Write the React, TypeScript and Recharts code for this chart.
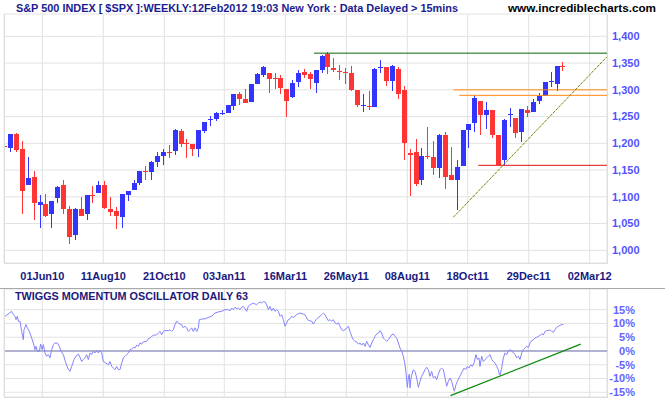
import React from 'react';
import {
  ComposedChart,
  Bar,
  Line,
  XAxis,
  YAxis,
  CartesianGrid,
  ReferenceLine
} from 'recharts';

// x axis is the week number, 0 = week of 12 Apr 2010
const dateTicks = [6.3, 16.68, 27.07, 37.28, 47.67, 58.05, 68.44, 78.72, 89.1, 99.49];
const dateLabels = ['01Jun10', '11Aug10', '21Oct10', '03Jan11', '16Mar11', '26May11', '08Aug11', '18Oct11', '29Dec11', '02Mar12'];
const priceTicks = [1000, 1050, 1100, 1150, 1200, 1250, 1300, 1350, 1400];
const pctTicks = [-15, -10, -5, 0, 5, 10, 15];

const opens = [
  1195, 1191, 1217, 1189, 1123, 1137, 1085, 1086, 1067, 1097,
  1122, 1077, 1029, 1077, 1067, 1103.5, 1108, 1122, 1077, 1073.5,
  1063, 1104, 1113.5, 1126.5, 1148.5, 1145.8, 1165.7, 1177, 1184, 1186,
  1223, 1200.5, 1199, 1190, 1223.7, 1244, 1245.5, 1256, 1257.3, 1270.4,
  1292, 1283, 1278, 1311.5, 1328, 1331.5, 1322, 1321.5, 1301.5, 1286.6,
  1315, 1334, 1329, 1312.8, 1337.7, 1367.6, 1340.8, 1335.5, 1334, 1332,
  1299.7, 1271, 1269, 1268, 1340, 1342.7, 1317, 1339.5, 1299.7, 1182.5,
  1183, 1131, 1177, 1174, 1153.7, 1214.7, 1140, 1131.3, 1157.5, 1224.6,
  1237.7, 1279, 1252, 1263.2, 1214.7, 1169.3, 1252.5, 1247.6, 1220.9, 1262.6,
  1258.2, 1278.7, 1289.3, 1314.5, 1310.4, 1344.2
];
const highs = [
  1213, 1218, 1219, 1204, 1174.5, 1148, 1103, 1105, 1092, 1120,
  1131.5, 1082, 1079, 1100, 1103, 1120, 1130, 1130, 1100, 1081,
  1105, 1111.5, 1131.5, 1148, 1157.5, 1167.6, 1184, 1189.4, 1196.6, 1227,
  1227, 1208, 1199, 1225, 1240, 1250.5, 1258.6, 1262, 1271, 1292,
  1295, 1301.5, 1311, 1331, 1344.5, 1331.5, 1331.5, 1328, 1301.5, 1317.8,
  1337, 1339, 1332.7, 1336.4, 1365, 1370.7, 1359, 1347, 1340, 1344.5,
  1299.7, 1292, 1298, 1341, 1355.8, 1342.7, 1346.4, 1342.7, 1307, 1189.6,
  1207.6, 1191, 1230.4, 1204, 1217.8, 1220.9, 1193.5, 1169.3, 1224, 1237,
  1291.2, 1279, 1276.9, 1263.2, 1214.7, 1245, 1265.7, 1247.6, 1265, 1269.4,
  1283.7, 1294.9, 1315, 1332.8, 1344.5, 1352.7
];
const lows = [
  1188, 1184, 1183, 1067, 1122, 1057, 1042, 1062, 1042, 1089,
  1068.5, 1012.5, 1020, 1065, 1057, 1089, 1108, 1077, 1065, 1040.5,
  1042, 1092, 1113.5, 1123, 1132, 1132, 1156, 1160, 1173, 1178,
  1193, 1173, 1177, 1175, 1220, 1233, 1242.4, 1252, 1257.3, 1263,
  1272, 1276, 1278, 1311.5, 1324.6, 1294, 1301.6, 1293, 1249, 1285.3,
  1306, 1322.7, 1301.5, 1294.7, 1332, 1330, 1332.7, 1319, 1311.5, 1298.5,
  1268.5, 1259, 1263, 1268, 1332, 1307.8, 1297, 1283.5, 1169.5, 1101.8,
  1120, 1121.2, 1171.2, 1140, 1135, 1115.2, 1131.3, 1075, 1157.5, 1192,
  1220.9, 1216, 1226.5, 1210.3, 1158.7, 1159, 1230.2, 1210.3, 1201.6, 1248.9,
  1258.2, 1273.8, 1289.3, 1304.8, 1298.6, 1334.7
];
const closes = [
  1193, 1217.5, 1188, 1111.5, 1135, 1089, 1090, 1065, 1092, 1118,
  1078, 1024, 1077, 1065, 1103, 1101.5, 1122, 1079, 1072, 1065,
  1105, 1110, 1126, 1148, 1146.5, 1165, 1176.3, 1183, 1183, 1225,
  1199.4, 1199.5, 1190, 1225, 1240, 1245.5, 1256, 1257.5, 1271, 1292,
  1283.5, 1276, 1311, 1329.6, 1342.7, 1320, 1321.5, 1303.4, 1279.7, 1312.8,
  1331.5, 1328.3, 1320, 1336.4, 1363, 1342, 1337, 1334, 1333, 1299.7,
  1271.6, 1272.5, 1267, 1339, 1342.7, 1317, 1344.5, 1292.8, 1200, 1178.4,
  1123.6, 1175.8, 1175.5, 1154.4, 1214.7, 1136.9, 1131.3, 1155.6, 1224, 1237,
  1284.3, 1252.5, 1263.2, 1214.7, 1158.7, 1242.7, 1254.5, 1219, 1265, 1256.3,
  1276.9, 1288, 1314.2, 1316.4, 1344, 1342.4
];

// [week, percent]
const oscReadings: [number, number][] = [
  [-0.05, 12.6], [1.08, 14.4], [1.37, 13.2], [1.65, 12.6], [1.82, 11.4], [2.05, 12.6], [2.22, 10.8], [2.5, 10.8],
  [2.79, 7.1], [3.07, 4.1], [3.18, 7.7], [3.52, 9.6], [3.75, 8.4], [4.09, 7.1], [4.49, 4.7], [4.77, 2.9],
  [5.06, 0.5], [5.23, 1.7], [5.45, -0.1], [5.79, -0.1], [6.02, 2.5], [6.25, 0.5], [6.48, 2.3], [6.76, -0.7],
  [7.04, -1.9], [7.33, -1.3], [7.61, -2.5], [7.89, 0.5], [8.18, 2.3], [8.46, 2.9], [8.86, 2.9], [9.2, 1.7],
  [9.48, -0.1], [9.88, -1.3], [10.22, -3.8], [10.62, -6.2], [11.01, -7.4], [11.3, -5.6], [11.7, -3.1], [12.04, -1.9],
  [12.43, -1.1], [12.72, -2.3], [13.0, -3.8], [13.29, -3.1], [13.57, -2.5], [13.85, -1.3], [14.14, -3.1], [14.42, -0.7],
  [14.7, -1.3], [14.99, -0.1], [15.27, -0.7], [15.56, 0.1], [15.84, -0.7], [16.12, 0.1], [16.41, -0.7], [16.69, -3.8],
  [17.14, -4.4], [17.54, -5.0], [17.83, -3.8], [18.11, -5.6], [18.39, -6.2], [18.68, -6.8], [18.96, -5.6], [19.24, -6.8],
  [19.53, -6.8], [19.81, -4.4], [20.09, -2.5], [20.38, -1.9], [20.66, -1.3], [20.95, -0.7], [21.23, 0.5], [21.51, 0.7],
  [21.8, 1.3], [22.08, 1.1], [22.36, 2.1], [22.65, 1.7], [22.93, 2.9], [23.22, 2.5], [23.5, 3.3], [24.07, 3.5],
  [24.35, 4.5], [24.63, 4.7], [24.92, 5.3], [25.2, 5.7], [25.77, 5.9], [26.05, 6.5], [26.34, 7.1], [26.62, 5.9],
  [26.9, 7.1], [27.19, 7.4], [27.76, 7.4], [28.04, 7.7], [28.32, 7.1], [28.61, 7.7], [28.89, 9.6], [29.17, 10.8],
  [29.46, 10.2], [29.74, 9.8], [30.03, 9.6], [30.31, 8.4], [30.59, 9.0], [30.88, 8.4], [31.16, 7.1], [31.44, 7.7],
  [31.73, 8.4], [32.01, 7.1], [32.3, 8.4], [32.58, 7.1], [32.86, 8.4], [33.03, 11.4], [33.43, 11.6], [34.0, 11.7],
  [34.57, 12.2], [35.13, 12.6], [35.7, 13.8], [36.27, 14.2], [36.84, 14.4], [37.4, 15.0], [37.97, 15.0], [38.25, 14.6],
  [38.54, 15.6], [38.82, 15.0], [39.11, 15.9], [39.39, 15.4], [39.67, 15.6], [39.96, 15.0], [40.24, 15.9], [40.52, 16.2],
  [40.81, 15.4], [41.09, 14.4], [41.38, 16.2], [41.66, 16.8], [41.94, 17.1], [42.23, 17.4], [42.51, 17.1], [42.79, 16.8],
  [43.08, 17.4], [43.36, 17.8], [43.65, 17.4], [43.93, 18.0], [44.21, 17.8], [44.5, 16.8], [44.78, 15.0], [45.06, 16.2],
  [45.35, 14.6], [45.63, 15.6], [45.91, 14.4], [46.2, 15.0], [46.48, 14.4], [46.77, 12.6], [47.05, 13.2], [47.33, 11.4],
  [47.62, 9.0], [47.9, 10.2], [48.18, 11.4], [48.47, 11.7], [48.75, 12.6], [49.04, 12.2], [49.6, 13.2], [50.17, 13.8],
  [50.74, 13.4], [51.02, 13.2], [51.31, 12.0], [51.59, 11.1], [52.16, 10.8], [52.44, 9.8], [52.72, 10.8], [53.01, 11.7],
  [53.29, 12.2], [53.57, 12.6], [53.86, 13.2], [54.14, 13.8], [54.43, 13.2], [54.71, 12.0], [54.99, 11.0], [55.28, 11.4],
  [55.56, 10.8], [55.84, 11.4], [56.13, 10.2], [56.41, 9.8], [56.7, 10.2], [56.98, 9.0], [57.26, 7.7], [57.55, 7.4],
  [57.83, 7.7], [58.11, 8.4], [58.4, 9.0], [58.68, 7.1], [58.97, 5.3], [59.25, 4.1], [59.53, 3.5], [59.82, 3.3],
  [60.1, 2.5], [60.38, 2.9], [60.67, 2.1], [60.95, 2.9], [61.24, 1.7], [61.52, 3.5], [61.8, 2.3], [62.09, 1.3],
  [62.37, 2.9], [62.65, 4.1], [62.94, 5.3], [63.22, 6.2], [63.51, 6.5], [63.79, 7.4], [64.07, 6.5], [64.36, 4.7],
  [64.64, 4.1], [64.92, 3.5], [65.21, 4.1], [65.49, 5.0], [65.78, 5.9], [66.06, 6.2], [66.34, 5.3], [66.63, 4.7],
  [66.91, 2.9], [67.19, 1.1], [67.48, -0.1], [67.76, -1.9], [68.05, -5.0], [68.22, -8.0], [68.44, -13.2], [68.61, -9.8],
  [68.78, -8.4], [68.9, -13.4], [69.07, -9.8], [69.29, -8.0], [69.46, -6.8], [69.75, -7.4], [70.03, -9.8], [70.32, -13.2],
  [70.6, -11.0], [70.88, -9.2], [71.17, -8.0], [71.45, -6.8], [71.73, -5.9], [72.02, -6.8], [72.3, -9.2], [72.59, -7.4],
  [72.87, -9.8], [73.15, -9.2], [73.44, -10.4], [73.72, -8.4], [74.0, -6.8], [74.29, -6.2], [74.57, -6.8], [74.86, -9.8],
  [75.14, -12.8], [75.42, -11.0], [75.71, -9.8], [75.99, -11.0], [76.27, -13.4], [76.44, -14.6], [76.73, -12.2], [76.95, -11.0],
  [77.24, -9.8], [77.52, -8.6], [77.81, -7.4], [78.09, -6.2], [78.37, -6.8], [78.66, -5.6], [78.94, -6.2], [79.23, -5.0],
  [79.51, -5.6], [79.79, -4.4], [80.13, -1.3], [80.36, -3.1], [80.64, -2.5], [80.81, -5.6], [81.1, -1.9], [81.38, -3.8],
  [81.66, -3.1], [81.95, -2.5], [82.23, -1.9], [82.52, -1.3], [82.8, -3.1], [83.08, -3.8], [83.37, -4.4], [83.65, -5.6],
  [83.93, -6.8], [84.1, -8.4], [84.22, -8.8], [84.5, -6.2], [84.79, -2.5], [85.07, -0.7], [85.35, -1.3], [85.64, -0.1],
  [85.92, 0.5], [86.2, 0.1], [86.49, -0.7], [86.77, -1.3], [87.06, -2.5], [87.34, -1.9], [87.62, -3.1], [87.91, -0.7],
  [88.19, 0.5], [88.47, 1.1], [88.76, 1.7], [89.04, 1.3], [89.33, 2.9], [89.61, 3.8], [89.89, 4.1], [90.18, 4.7],
  [90.46, 5.0], [90.74, 5.3], [91.03, 5.7], [91.31, 6.2], [91.6, 5.9], [91.88, 7.1], [92.16, 7.4], [92.45, 7.5],
  [92.73, 7.7], [93.01, 7.1], [93.3, 6.8], [93.58, 7.7], [93.87, 8.6], [94.15, 9.0], [94.43, 9.3], [94.72, 9.6],
  [95.0, 9.6]
];

// drawn lines: [week, value] end points
const resistanceLine = { from: 52.55, to: 102.43, price: 1368.5 };
const orangeLines = [
  { from: 76.27, to: 102.43, price: 1300 },
  { from: 77.29, to: 102.43, price: 1289.7 }
];
const supportLine = { from: 80.52, to: 102.43, price: 1158.9 };
const priceTrend: [number, number][] = [[76.27, 1061.7], [102.43, 1361.9]];
const oscTrend: [number, number][] = [[75.79, -16.2], [97.96, 2.5]];

const X_DOMAIN: [number, number] = [-0.22, 102.43];
const UP = '#3434ff';
const DOWN = '#ff3434';
const FONT = '"Liberation Sans", Arial, sans-serif';

const candles = opens.map((o, i) => ({
  i,
  open: o,
  high: highs[i],
  low: lows[i],
  close: closes[i],
  range: [lows[i], highs[i]]
}));

const oscData = oscReadings.map(([w, v]) => ({ w, v }));

const Candle = (props: any) => {
  const { x, y, width, height, payload } = props;
  if (x == null || y == null || !payload) return null;
  const cx = Math.floor(x + width / 2);
  const top = Math.min(y, y + height);
  const span = Math.abs(height);
  const { open, close, high, low } = payload;
  const toPx = (v: number) => top + ((high - v) / (high - low || 1)) * span;
  const color = close >= open ? UP : DOWN;
  const bodyTop = Math.round(toPx(Math.max(open, close)));
  const bodyH = Math.max(1, Math.round(toPx(Math.min(open, close))) - bodyTop);
  const wickTop = Math.round(top);
  const wickH = Math.max(1, Math.round(top + span) - wickTop);
  return (
    <g shapeRendering="crispEdges">
      <rect x={cx} y={wickTop} width={1} height={wickH} fill={color} />
      <rect x={cx - 2} y={bodyTop} width={5} height={bodyH} fill={color} />
    </g>
  );
};

const DateTick = (props: any) => {
  const { x, y, index } = props;
  return (
    <text x={x} y={y + 17} textAnchor="middle" fontFamily={FONT} fontWeight="bold" fontSize={11} fill="#1a1a80">
      {dateLabels[index]}
    </text>
  );
};

const PriceTick = (props: any) => {
  const { x, y, payload } = props;
  return (
    <text x={x} y={y} dy="0.35em" textAnchor="start" fontFamily={FONT} fontWeight="bold" fontSize={11} fill="#5252ff">
      {Number(payload.value).toLocaleString('en-US')}
    </text>
  );
};

const PctTick = (props: any) => {
  const { x, y, payload } = props;
  return (
    <text x={x + 23} y={y} dy="0.35em" textAnchor="end" fontFamily={FONT} fontWeight="bold" fontSize={11} fill="#6464ff">
      {payload.value}%
    </text>
  );
};

export default function App() {
  return (
    <div style={{ position: 'absolute', left: 0, top: 0, width: 665, height: 405, background: '#fff', overflow: 'hidden' }}>
      {/* price panel */}
      <div style={{ position: 'absolute', left: 0, top: 0 }}>
        <ComposedChart width={665} height={290} data={candles} margin={{ top: 14, right: 0, bottom: 0, left: 4 }}>
          <CartesianGrid stroke="#e2e2e2" />
          <XAxis
            type="number"
            dataKey="i"
            domain={X_DOMAIN}
            ticks={dateTicks}
            interval={0}
            allowDataOverflow
            height={27}
            tickSize={0}
            tickMargin={0}
            tickLine={false}
            axisLine={false}
            tick={<DateTick />}
          />
          <YAxis
            orientation="right"
            width={58}
            domain={[976.3, 1441.7]}
            ticks={priceTicks}
            interval={0}
            allowDataOverflow
            tickSize={0}
            tickMargin={5}
            tickLine={false}
            axisLine={false}
            tick={<PriceTick />}
          />
          <Bar dataKey="range" barSize={5} shape={Candle} isAnimationActive={false} />
          <ReferenceLine
            segment={[{ x: resistanceLine.from, y: resistanceLine.price }, { x: resistanceLine.to, y: resistanceLine.price }]}
            stroke="#0b640b"
            ifOverflow="visible"
          />
          {orangeLines.map((l, k) => (
            <ReferenceLine
              key={k}
              segment={[{ x: l.from, y: l.price }, { x: l.to, y: l.price }]}
              stroke="#ff8a10"
              ifOverflow="visible"
            />
          ))}
          <ReferenceLine
            segment={[{ x: supportLine.from, y: supportLine.price }, { x: supportLine.to, y: supportLine.price }]}
            stroke="#e01010"
            ifOverflow="visible"
          />
          <ReferenceLine
            segment={priceTrend.map(([x, y]) => ({ x, y }))}
            stroke="#7d7d00"
            strokeDasharray="3 1"
            ifOverflow="visible"
          />
        </ComposedChart>
      </div>

      {/* oscillator panel */}
      <div style={{ position: 'absolute', left: 0, top: 280 }}>
        <ComposedChart width={665} height={125} data={oscData} margin={{ top: 9, right: 0, bottom: 8, left: 4 }}>
          <CartesianGrid stroke="#e2e2e2" />
          <XAxis type="number" dataKey="w" domain={X_DOMAIN} ticks={dateTicks} interval={0} allowDataOverflow hide />
          <YAxis
            orientation="right"
            width={58}
            domain={[-16.71, 22.52]}
            ticks={pctTicks}
            interval={0}
            allowDataOverflow
            tickSize={0}
            tickMargin={5}
            tickLine={false}
            axisLine={false}
            tick={<PctTick />}
          />
          <ReferenceLine y={0} stroke="#7272b6" />
          <Line type="linear" dataKey="v" stroke="#8383ff" strokeWidth={1} dot={false} isAnimationActive={false} />
          <ReferenceLine
            segment={oscTrend.map(([x, y]) => ({ x, y }))}
            stroke="#0d8a0d"
            strokeWidth={1.3}
            ifOverflow="visible"
          />
        </ComposedChart>
      </div>

      {/* panel frames */}
      <div style={{ position: 'absolute', left: 4, top: 14, width: 604, height: 250, border: '1px solid #dedede', borderTop: 'none', boxSizing: 'border-box', pointerEvents: 'none' }} />
      <div style={{ position: 'absolute', left: 4, top: 289, width: 604, height: 109, border: '1px solid #dedede', borderTop: 'none', boxSizing: 'border-box', pointerEvents: 'none' }} />
      <div style={{ position: 'absolute', left: 0, top: 288, width: 665, height: 1, background: '#a9a9a9' }} />

      {/* titles */}
      <svg width={665} height={405} style={{ position: 'absolute', left: 0, top: 0, pointerEvents: 'none' }}>
        <text x={16} y={11.5} fontFamily={FONT} fontWeight="bold" fontSize={10.5} fill="#1b1b8f" textLength={442} lengthAdjust="spacingAndGlyphs">
          S&amp;P 500 INDEX [ $SPX ]:WEEKLY:12Feb2012 19:03 New York  : Data Delayed &gt; 15mins
        </text>
        <text x={508} y={11.5} fontFamily={FONT} fontWeight="bold" fontSize={11} fill="#000" textLength={148} lengthAdjust="spacingAndGlyphs">
          www.incrediblecharts.com
        </text>
        <text x={15} y={299.5} fontFamily={FONT} fontWeight="bold" fontSize={11.5} fill="#22197a" textLength={233} lengthAdjust="spacingAndGlyphs">
          TWIGGS MOMENTUM OSCILLATOR DAILY 63
        </text>
      </svg>
    </div>
  );
}
